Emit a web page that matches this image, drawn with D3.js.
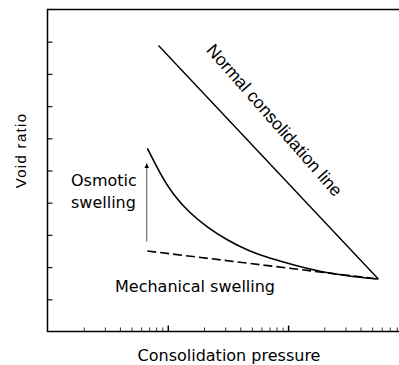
<!DOCTYPE html>
<html>
<head>
<meta charset="utf-8">
<script src="https://cdn.jsdelivr.net/npm/d3@7"></script>
<style>
  html, body { margin: 0; padding: 0; background: #fff; }
  svg { display: block; }
</style>
</head>
<body>
<svg id="chart" width="399" height="365"></svg>
<script>
// ---- data ----
const xDomain = [1, 1000];          // consolidation pressure (log scale, arbitrary units)
const yDomain = [0, 10];            // void ratio (arbitrary units)
const yTickValues = [1, 2, 3, 4, 5, 6, 7, 8, 9];
const xMinorTicks = [2,3,4,5,6,7,8,9, 20,30,40,50,60,70,80,90, 200,300,400,500,600,700,800,900];
const xMajorTicks = [10, 100];

// normal consolidation line
const nclX = [8.37, 562];
const nclY = [8.88, 1.63];
// unloading (swelling) curve
const curveX = [6.75, 8.61, 11.1, 15.3, 21.1, 30.9, 48.2, 70.7, 110.5, 209, 396, 562];
const curveY = [5.69, 4.91, 4.24, 3.67, 3.25, 2.84, 2.48, 2.27, 2.07, 1.81, 1.68, 1.63];
// mechanical swelling (dashed)
const mechX = [6.75, 562];
const mechY = [2.50, 1.63];
// osmotic swelling arrow
const arrowX = [6.68, 6.68];
const arrowY = [2.79, 5.22];

const labels = {
  y: "Void ratio",
  x: "Consolidation pressure",
  ncl: "Normal consolidation line",
  osm1: "Osmotic",
  osm2: "swelling",
  mech: "Mechanical swelling"
};

// ---- drawing ----
(function () {
const svg = d3.select("#chart");
const mLeft = 47.5, mTop = 9.5, mRight = 408.4, mBottom = 331.5;

const x = d3.scaleLog().domain(xDomain).range([mLeft, mRight]);
const y = d3.scaleLinear().domain(yDomain).range([mBottom, mTop]);

const gothic = "'DejaVu Sans', sans-serif";
const arial = "'Liberation Sans', Arial, sans-serif";

// ticks
const gy = svg.append("g").attr("transform", `translate(${mLeft},0)`)
  .call(d3.axisLeft(y).tickValues(yTickValues).tickSize(-5).tickFormat(""));
gy.select(".domain").remove();
gy.selectAll("line").attr("stroke", "#222").attr("stroke-width", 1.3);

const gxm = svg.append("g").attr("transform", `translate(0,${mBottom})`)
  .call(d3.axisBottom(x).tickValues(xMinorTicks).tickSize(-4).tickFormat(""));
gxm.select(".domain").remove();
gxm.selectAll("line").attr("stroke", "#333").attr("stroke-width", 1);

const gxM = svg.append("g").attr("transform", `translate(0,${mBottom})`)
  .call(d3.axisBottom(x).tickValues(xMajorTicks).tickSize(-6).tickFormat(""));
gxM.select(".domain").remove();
gxM.selectAll("line").attr("stroke", "#000").attr("stroke-width", 1.5);

// frame
svg.append("rect")
  .attr("x", mLeft).attr("y", mTop)
  .attr("width", mRight - mLeft).attr("height", mBottom - mTop)
  .attr("fill", "none").attr("stroke", "#000").attr("stroke-width", 1.5);

const line = d3.line().x(d => x(d[0])).y(d => y(d[1]));
const curveLine = d3.line().x(d => x(d[0])).y(d => y(d[1])).curve(d3.curveBasis);

svg.append("path")
  .attr("d", line(d3.zip(nclX, nclY)))
  .attr("fill", "none").attr("stroke", "#000").attr("stroke-width", 1.4);

svg.append("path")
  .attr("d", curveLine(d3.zip(curveX, curveY)))
  .attr("fill", "none").attr("stroke", "#000").attr("stroke-width", 1.6);

svg.append("path")
  .attr("d", line(d3.zip(mechX, mechY)))
  .attr("fill", "none").attr("stroke", "#000").attr("stroke-width", 1.6)
  .attr("stroke-dasharray", "9,4");

// arrow
svg.append("defs").append("marker")
  .attr("id", "ah").attr("viewBox", "0 0 10 10")
  .attr("refX", 10).attr("refY", 5)
  .attr("markerWidth", 5).attr("markerHeight", 5)
  .attr("markerUnits", "userSpaceOnUse")
  .attr("orient", "auto")
  .append("path").attr("d", "M0,0 L10,5 L0,10 Z").attr("fill", "#000");

svg.append("path")
  .attr("d", line(d3.zip(arrowX, arrowY)))
  .attr("fill", "none").attr("stroke", "#555").attr("stroke-width", 1)
  .attr("marker-end", "url(#ah)");

// texts
svg.append("text")
  .attr("transform", "translate(26,150.5) rotate(-90)")
  .attr("text-anchor", "middle")
  .style("font-family", arial).style("font-size", "15px")
  .style("letter-spacing", "1.3px")
  .text(labels.y);

svg.append("text")
  .attr("x", 229).attr("y", 360.5)
  .attr("text-anchor", "middle")
  .style("font-family", gothic).style("font-size", "16px")
  .text(labels.x);

svg.append("text")
  .attr("transform", "translate(270,124) rotate(48.8)")
  .attr("text-anchor", "middle")
  .style("font-family", arial).style("font-size", "17.5px")
  .text(labels.ncl);

svg.append("text")
  .attr("x", 71).attr("y", 186)
  .style("font-family", gothic).style("font-size", "16px")
  .text(labels.osm1);
svg.append("text")
  .attr("x", 71).attr("y", 208)
  .style("font-family", gothic).style("font-size", "16px")
  .text(labels.osm2);

svg.append("text")
  .attr("x", 115).attr("y", 291.5)
  .style("font-family", gothic).style("font-size", "16px")
  .text(labels.mech);
})();
</script>
</body>
</html>
